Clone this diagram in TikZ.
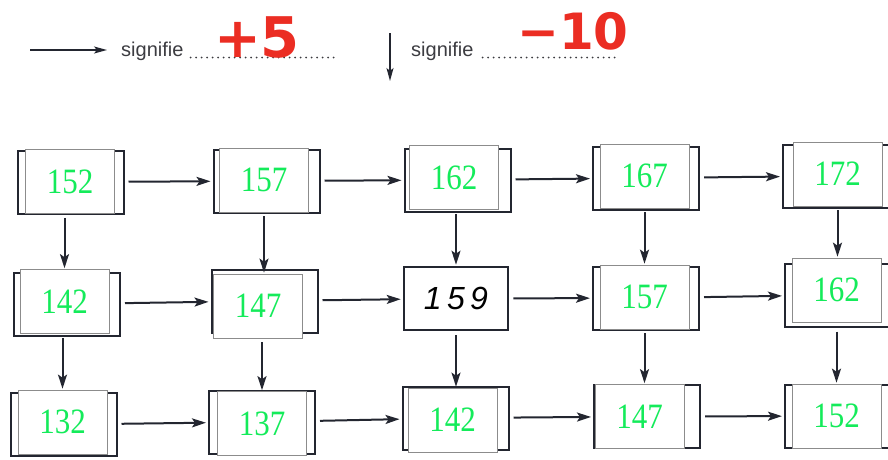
\documentclass[tikz,border=0pt]{standalone}
\usepackage{fontspec}
\setmainfont{Liberation Serif}
\setsansfont{Liberation Sans}
\newfontfamily\penfont{DejaVu Sans}
\usetikzlibrary{arrows.meta}
\definecolor{numgreen}{RGB}{20,235,90}
\definecolor{inkred}{RGB}{235,45,35}
\definecolor{printgray}{RGB}{60,60,65}
\definecolor{ink}{RGB}{35,38,48}
\newcommand{\cellnum}[1]{\scalebox{1}[1.15]{#1}}
\begin{document}
\begin{tikzpicture}[x=1pt,y=-1pt,
    frame/.style={draw=ink,line width=2pt,minimum width=106pt,minimum height=63pt,inner sep=0pt},
    given/.style={frame,line width=2.6pt,minimum width=104pt,font=\sffamily\itshape\fontsize{32}{32}\selectfont},
    cell/.style={draw=black!45,fill=white,line width=0.7pt,minimum width=89pt,minimum height=64pt,inner sep=0pt,text=numgreen,font=\fontsize{31}{31}\selectfont},
    link/.style={draw=ink,line width=2pt,-{Stealth[length=14pt,width=9pt,inset=3pt]},shorten <=4pt,shorten >=2pt},
    keyarrow/.style={draw=ink,line width=1.5pt,-{Stealth[length=13pt,width=7pt,inset=3pt]}},
    key/.style={text=printgray,font=\sffamily\fontsize{20}{20}\selectfont,anchor=base west,inner sep=0pt},
    fillline/.style={draw=printgray,line width=2pt,line cap=round,dash pattern=on 0pt off 5.5pt},
    redpen/.style={text=inkred,font=\penfont\bfseries\fontsize{56}{56}\selectfont,inner sep=0pt}]
  \useasboundingbox (0,0) rectangle (888,459);
  % legend
  \coordinate (h0) at (30,50);
  \coordinate (h1) at (107,50);
  \coordinate (v0) at (390,33);
  \coordinate (v1) at (390,81);
  \draw[keyarrow] (h0) -- (h1);
  \draw[keyarrow] (v0) -- (v1);
  \node[key] (s1) at (121,56.5) {signifie};
  \node[key] (s2) at (411,56.5) {signifie};
  \draw[fillline] ([xshift=7pt,yshift=-1pt]s1.base east) -- ++(146,0);
  \draw[fillline] ([xshift=9pt,yshift=-1pt]s2.base east) -- ++(136,0);
  \node[redpen] (p5) at (257,37) {+5};
  \node[redpen,font=\penfont\bfseries\fontsize{50}{50}\selectfont] (m10) at (573,31) {−10};
  % printed frames
  \path
    (70.5,182) node[frame] (f11){}
    (266.5,181) node[frame] (f12){}
    (457.5,180) node[frame] (f13){}
    (646,178) node[frame] (f14){}
    (836,176) node[frame] (f15){}
    (67,304) node[frame] (f21){}
    (264.5,301) node[frame] (f22){}
    (456,298.5) node[given] (f23){1\,5\,9}
    (646,298) node[frame] (f24){}
    (838,295) node[frame] (f25){}
    (63.5,424.5) node[frame] (f31){}
    (262,422) node[frame] (f32){}
    (455.5,418) node[frame] (f33){}
    (647,416.5) node[frame] (f34){}
    (838,416) node[frame] (f35){};
  % white answer cells
  \path
    (70,181.5) node[cell] (c11){\cellnum{152}}
    (264,180) node[cell] (c12){\cellnum{157}}
    (454,177.5) node[cell] (c13){\cellnum{162}}
    (644.5,176) node[cell] (c14){\cellnum{167}}
    (837.5,174) node[cell] (c15){\cellnum{172}}
    (64.5,301.5) node[cell] (c21){\cellnum{142}}
    (258,306) node[cell] (c22){\cellnum{147}}
    (644.5,297) node[cell] (c24){\cellnum{157}}
    (836.5,290) node[cell] (c25){\cellnum{162}}
    (62.5,422) node[cell] (c31){\cellnum{132}}
    (262,423.5) node[cell] (c32){\cellnum{137}}
    (452.5,420) node[cell] (c33){\cellnum{142}}
    (639.5,416.5) node[cell] (c34){\cellnum{147}}
    (836.5,416) node[cell] (c35){\cellnum{152}};
  \begin{scope}[link]
    \draw (f11) to (f12);
    \draw (f12) to (f13);
    \draw (f13) to (f14);
    \draw (f14) to (f15);
    \draw (f21) to (f22);
    \draw (f22) to (f23);
    \draw (f23) to (f24);
    \draw (f24) to (f25);
    \draw (f31) to (f32);
    \draw (f32) to (f33);
    \draw (f33) to (f34);
    \draw (f34) to (f35);
  \end{scope}
  \begin{scope}[link,shorten >=1pt]
    \draw (c11.south -| c21) to (c21.north);
    \draw (c21.south -| c31) to (c31.north);
    \draw (c12.south) to (c22.north -| c12);
    \draw (c22.south -| c32) to (c32.north);
    \draw (c13.south -| f23) to (f23.north);
    \draw (f23.south) to (c33.north -| f23);
    \draw (c14.south) to (c24.north -| c14);
    \draw (c24.south) to (c34.north -| c24);
    \draw (c15.south) to (c25.north -| c15);
    \draw (f25.south -| c35) to (c35.north);
  \end{scope}
\end{tikzpicture}
\end{document}
